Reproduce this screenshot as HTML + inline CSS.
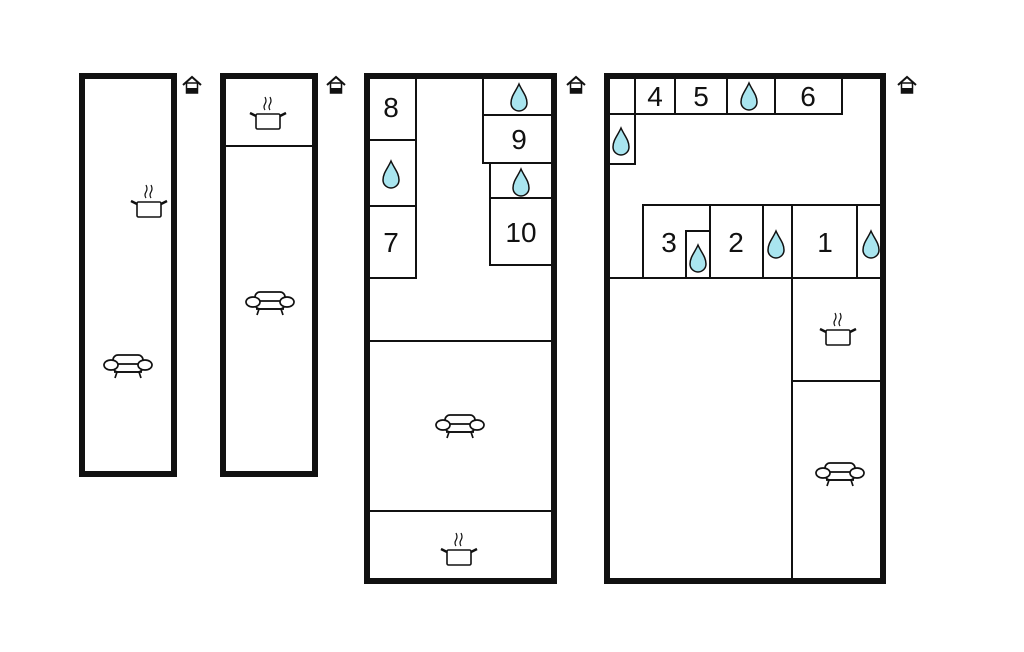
<!DOCTYPE html>
<html><head><meta charset="utf-8"><style>
html,body{margin:0;padding:0;background:#fff}
svg{display:block}
text{font-family:"Liberation Sans",sans-serif;font-size:28px;fill:#111;text-anchor:middle}
</style></head><body>
<svg width="1024" height="652" viewBox="0 0 1024 652" xmlns="http://www.w3.org/2000/svg">
<defs>
<g id="pot" fill="none" stroke="#111" stroke-width="1.6">
<rect x="-12" y="-7" width="24" height="15" rx="1.5" fill="#fff"/>
<path d="M-12 -5 L-18 -8 M12 -5 L18 -8" stroke-width="2.5"/>
<path d="M-3 -11 q-2 -3 0 -6 q2 -3 0 -7 M2 -11 q-2 -3 0 -6 q2 -3 0 -7" stroke-width="1.2"/>
</g>
<g id="sofa" fill="#fff" stroke="#111" stroke-width="1.7">
<rect x="-15" y="-12" width="30" height="17" rx="5"/>
<path d="M-15 -3 H15"/>
<ellipse cx="-17" cy="-2" rx="7" ry="5"/>
<ellipse cx="17" cy="-2" rx="7" ry="5"/>
<path d="M-14 5 H14 M-11 5 L-13 11 M11 5 L13 11" fill="none"/>
</g>
<path id="drop" d="M0 -14 C3 -7 8 -2 8 5 A8 8 0 0 1 -8 5 C-8 -2 -3 -7 0 -14 Z" fill="#a9e5ef" stroke="#111" stroke-width="1.5"/>
<g id="house">
<path d="M-9 -1 L0 -9 L9 -1" fill="none" stroke="#111" stroke-width="2"/>
<rect x="-5.5" y="-3" width="11" height="10" fill="#fff" stroke="#111" stroke-width="1.5"/>
<rect x="-5.5" y="2" width="11" height="5" fill="#111"/>
</g>
</defs>

<g fill="none" stroke="#111">
<rect x="82" y="76" width="92" height="398" stroke-width="6"/>
<rect x="223" y="76" width="92" height="398" stroke-width="6"/>
<path d="M226 146 H312" stroke-width="2"/>
<rect x="367" y="76" width="187" height="505" stroke-width="6"/>
<path d="M370 341 H551 M370 511 H551" stroke-width="2"/>
<path d="M370 140 H416 M370 206 H416 M416 76 V278 H370" stroke-width="2"/>
<path d="M483 76 V163 H551 M483 115 H551 M490 163 V265 H551 M490 198 H551" stroke-width="2"/>
<rect x="607" y="76" width="276" height="505" stroke-width="6"/>
<path d="M610 114 H842 V76 M635 76 V164 H610 M675 76 V114 M727 76 V114 M775 76 V114" stroke-width="2"/>
<path d="M643 278 V205 H880 M610 278 H880 M710 205 V278 M686 278 V231 H710 M763 205 V278 M792 205 V578 M857 205 V278 M792 381 H880" stroke-width="2"/>
</g>

<text x="391" y="117">8</text>
<text x="391" y="252">7</text>
<text x="519" y="149">9</text>
<text x="521" y="242">10</text>
<text x="655" y="106">4</text>
<text x="701" y="106">5</text>
<text x="808" y="106">6</text>
<text x="669" y="252">3</text>
<text x="736" y="252">2</text>
<text x="825" y="252">1</text>

<use href="#drop" x="519" y="98"/>
<use href="#drop" x="391" y="175"/>
<use href="#drop" x="521" y="183"/>
<use href="#drop" x="749" y="97"/>
<use href="#drop" x="621" y="142"/>
<use href="#drop" x="698" y="259"/>
<use href="#drop" x="776" y="245"/>
<use href="#drop" x="871" y="245"/>

<use href="#pot" x="149" y="209"/>
<use href="#pot" x="268" y="121"/>
<use href="#pot" x="459" y="557"/>
<use href="#pot" x="838" y="337"/>
<use href="#sofa" x="128" y="367"/>
<use href="#sofa" x="270" y="304"/>
<use href="#sofa" x="460" y="427"/>
<use href="#sofa" x="840" y="475"/>

<use href="#house" x="192" y="86"/>
<use href="#house" x="336" y="86"/>
<use href="#house" x="576" y="86"/>
<use href="#house" x="907" y="86"/>
</svg>
</body></html>
